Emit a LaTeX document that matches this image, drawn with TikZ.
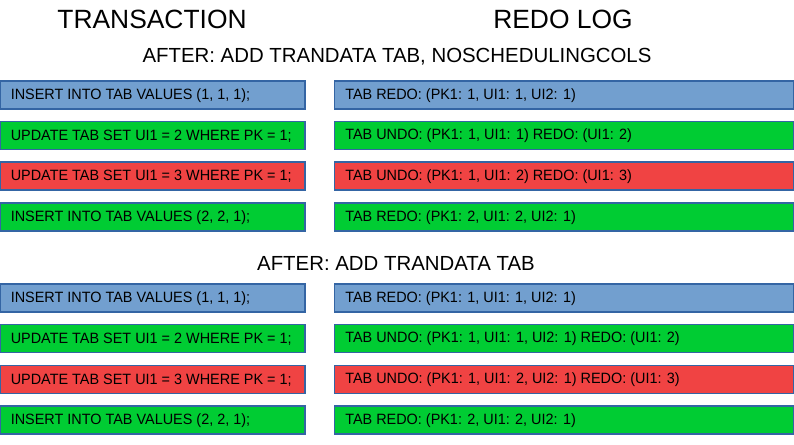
\documentclass[tikz,border=0pt]{standalone}
\usepackage{fontspec}
\setmainfont{Liberation Sans}
\newfontfamily\boxfont[FakeStretch=0.966]{Liberation Sans}
\definecolor{bxblue}{HTML}{729FCF}
\definecolor{bxgreen}{HTML}{00CC33}
\definecolor{bxred}{HTML}{F04343}
\definecolor{bxline}{HTML}{3465A4}
\begin{document}
\begin{tikzpicture}[x=0.75pt,y=-0.75pt,
  rowbox/.style={draw=bxline,line width=0.9pt},
  boxtext/.style={anchor=west,inner sep=0pt,font=\boxfont\fontsize{11.2}{13}\selectfont},
  bigtitle/.style={inner sep=0pt,font=\fontsize{19.8}{23}\selectfont},
  subtitle/.style={inner sep=0pt,font=\fontsize{15.3}{18}\selectfont}]
\useasboundingbox (0,0) rectangle (794,445);
\node[bigtitle] (t1) at (152,19) {TRANSACTION};
\node[bigtitle] (t2) at (563,19) {REDO LOG};
\node[subtitle] (s1) at (397,57) {AFTER: ADD TRANDATA TAB, NOSCHEDULINGCOLS};
\node[subtitle] (s2) at (396,263) {AFTER: ADD TRANDATA TAB};
\foreach \y/\c/\lt/\rt in {
  81/bxblue/{INSERT INTO TAB VALUES (1, 1, 1);}/{TAB REDO: (PK1: 1, UI1: 1, UI2: 1)},
  121.5/bxgreen/{UPDATE TAB SET UI1 = 2 WHERE PK = 1;}/{TAB UNDO: (PK1: 1, UI1: 1) REDO: (UI1: 2)},
  162/bxred/{UPDATE TAB SET UI1 = 3 WHERE PK = 1;}/{TAB UNDO: (PK1: 1, UI1: 2) REDO: (UI1: 3)},
  203/bxgreen/{INSERT INTO TAB VALUES (2, 2, 1);}/{TAB REDO: (PK1: 2, UI1: 2, UI2: 1)},
  284/bxblue/{INSERT INTO TAB VALUES (1, 1, 1);}/{TAB REDO: (PK1: 1, UI1: 1, UI2: 1)},
  324.5/bxgreen/{UPDATE TAB SET UI1 = 2 WHERE PK = 1;}/{TAB UNDO: (PK1: 1, UI1: 1, UI2: 1) REDO: (UI1: 2)},
  365.5/bxred/{UPDATE TAB SET UI1 = 3 WHERE PK = 1;}/{TAB UNDO: (PK1: 1, UI1: 2, UI2: 1) REDO: (UI1: 3)},
  406/bxgreen/{INSERT INTO TAB VALUES (2, 2, 1);}/{TAB REDO: (PK1: 2, UI1: 2, UI2: 1)}}{
  \draw[rowbox,fill=\c] (0.6,\y) rectangle (305,\y+28);
  \draw[rowbox,fill=\c] (334.5,\y) rectangle (793.4,\y+28);
  \node[boxtext] (l\y) at (10.5,\y+14.5) {\lt};
  \node[boxtext] (r\y) at (345,\y+14.5) {\rt};
}
\end{tikzpicture}
\end{document}
